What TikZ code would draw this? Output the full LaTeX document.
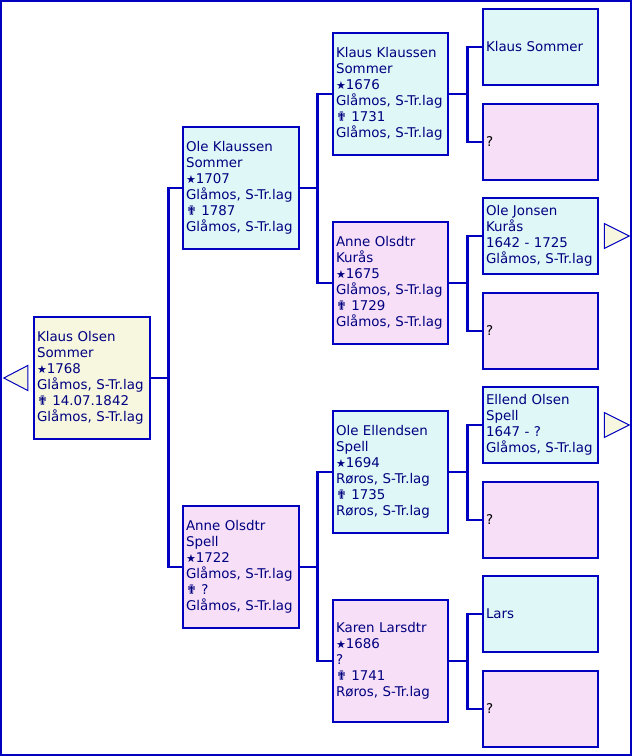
\documentclass[tikz,border=0pt]{standalone}
\usepackage{fontspec}
\setmainfont{DejaVu Sans}
\definecolor{framecol}{HTML}{0000C0}
\definecolor{textcol}{HTML}{000080}
\definecolor{malefill}{HTML}{DFF7F7}
\definecolor{femalefill}{HTML}{F7DFF7}
\definecolor{rootfill}{HTML}{F7F7DF}
\newcommand{\born}{{\fontsize{11}{16}\selectfont ★}}
\newcommand{\died}{{\fontsize{13}{16}\selectfont ✟}\ }
\begin{document}
\begin{tikzpicture}[x=1pt,y=-1pt,font=\fontsize{13.4}{16}\selectfont,text=textcol,
  person/.style={rectangle,draw=framecol,line width=2.5pt,align=left,inner xsep=3pt,inner ysep=0pt},
  big/.style={person,minimum height=122pt,text width=110pt},
  mid/.style={person,minimum height=122pt,text width=109pt},
  small/.style={person,minimum height=76pt,text width=109pt},
  male/.style={fill=malefill},
  female/.style={fill=femalefill},
  unknown/.style={small,female,text=black},
  link/.style={draw=framecol,line width=2.5pt},
  more/.style={draw=framecol,line width=1pt,fill=rootfill}]
\useasboundingbox (0,0) rectangle (632,756);
\draw[framecol,line width=2.5pt] (1.2,1.2) rectangle (630.8,754.8);
\node[big,fill=rootfill] (klaus) at (92,378) {Klaus Olsen\\Sommer\\\born1768\\Glåmos, S-Tr.lag\\\died14.07.1842\\Glåmos, S-Tr.lag};
\node[big,male] (ole) at (241,188) {Ole Klaussen\\Sommer\\\born1707\\Glåmos, S-Tr.lag\\\died1787\\Glåmos, S-Tr.lag};
\node[big,female] (anne) at (241,567) {Anne Olsdtr\\Spell\\\born1722\\Glåmos, S-Tr.lag\\\died?\\Glåmos, S-Tr.lag};
\node[mid,male] (klausk) at (390.5,94) {Klaus Klaussen\\Sommer\\\born1676\\Glåmos, S-Tr.lag\\\died1731\\Glåmos, S-Tr.lag};
\node[mid,female] (anneo) at (390.5,283) {Anne Olsdtr\\Kurås\\\born1675\\Glåmos, S-Tr.lag\\\died1729\\Glåmos, S-Tr.lag};
\node[mid,male] (olee) at (390.5,472) {Ole Ellendsen\\Spell\\\born1694\\Røros, S-Tr.lag\\\died1735\\Røros, S-Tr.lag};
\node[mid,female] (karen) at (390.5,661) {Karen Larsdtr\\\born1686\\?\\\died1741\\Røros, S-Tr.lag};
\node[small,male] (klauss) at (540.5,47) {Klaus Sommer};
\node[unknown] (ukn1) at (540.5,142) {?};
\node[small,male] (olej) at (540.5,236) {Ole Jonsen\\Kurås\\1642 - 1725\\Glåmos, S-Tr.lag};
\node[unknown] (ukn2) at (540.5,331) {?};
\node[small,male] (ellend) at (540.5,425) {Ellend Olsen\\Spell\\1647 - ?\\Glåmos, S-Tr.lag};
\node[unknown] (ukn3) at (540.5,520) {?};
\node[small,male] (lars) at (540.5,614) {Lars};
\node[unknown] (ukn4) at (540.5,709) {?};
\draw[link] (klaus.east) -- ++(17,0) |- (ole.west);
\draw[link] (klaus.east) -- ++(17,0) |- (anne.west);
\draw[link] (ole.east) -- ++(17,0) |- (klausk.west);
\draw[link] (ole.east) -- ++(17,0) |- (anneo.west);
\draw[link] (anne.east) -- ++(17,0) |- (olee.west);
\draw[link] (anne.east) -- ++(17,0) |- (karen.west);
\draw[link] (klausk.east) -- ++(18,0) |- (klauss.west);
\draw[link] (klausk.east) -- ++(18,0) |- (ukn1.west);
\draw[link] (anneo.east) -- ++(18,0) |- (olej.west);
\draw[link] (anneo.east) -- ++(18,0) |- (ukn2.west);
\draw[link] (olee.east) -- ++(18,0) |- (ellend.west);
\draw[link] (olee.east) -- ++(18,0) |- (ukn3.west);
\draw[link] (karen.east) -- ++(18,0) |- (lars.west);
\draw[link] (karen.east) -- ++(18,0) |- (ukn4.west);
\draw[more] (klaus.west) ++(-5,-12.5) -- ++(0,25) -- ++(-24,-12.5) -- cycle;
\draw[more] (olej.east) ++(5,-12.5) -- ++(0,25) -- ++(25,-12.5) -- cycle;
\draw[more] (ellend.east) ++(5,-12.5) -- ++(0,25) -- ++(25,-12.5) -- cycle;
\end{tikzpicture}
\end{document}
